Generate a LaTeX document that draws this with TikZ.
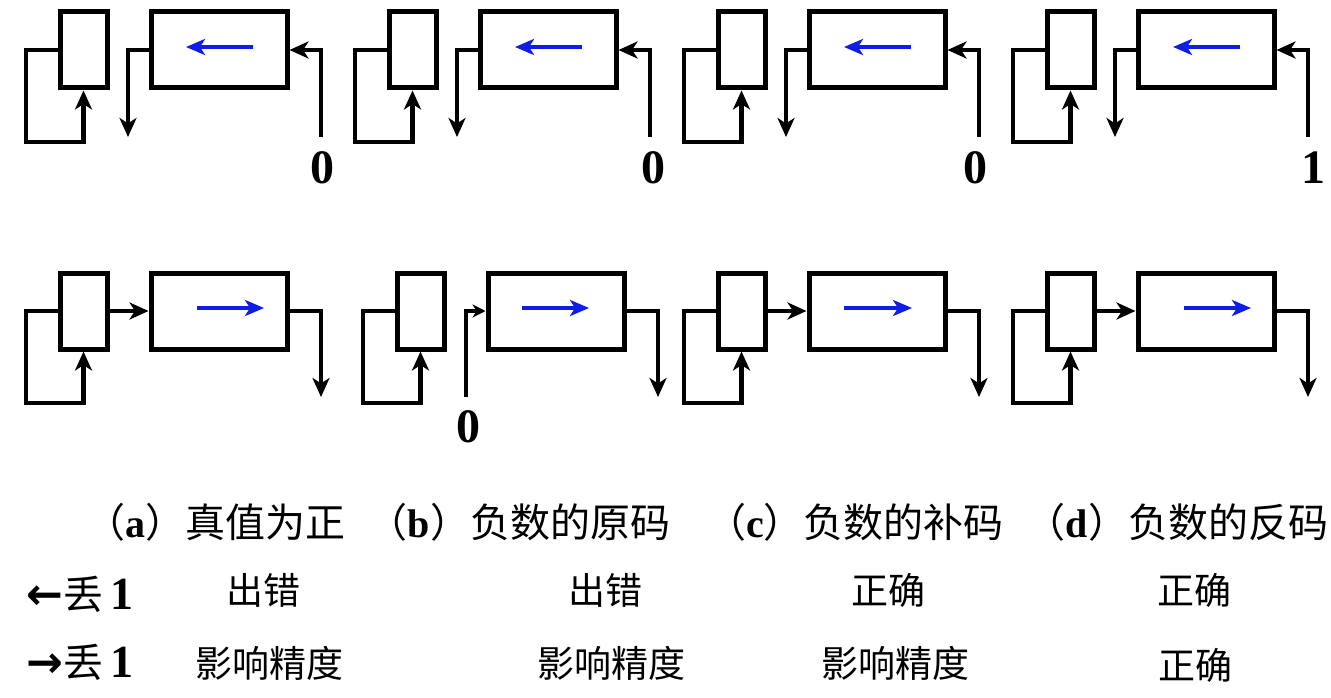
\documentclass[tikz,border=0pt]{standalone}
\usepackage{fontspec}
\setmainfont{Liberation Serif}
\newfontfamily\cjk{Noto Sans CJK SC}
\newfontfamily\dvs{DejaVu Sans}
\usetikzlibrary{arrows.meta}
\definecolor{arrblue}{RGB}{15,30,230}
\tikzset{
  reg/.style={draw, line width=5pt, inner sep=0pt},
  smallreg/.style={reg, minimum width=47pt, minimum height=76pt},
  bigreg/.style={reg, minimum width=136pt, minimum height=76pt},
  wire/.style={line width=4.6pt, -{Stealth[length=19pt,width=17pt,inset=5.5pt]}},
  shortwire/.style={line width=4.6pt, -{Stealth[length=13pt,width=13pt,inset=4pt]}},
  shiftarrow/.style={draw=arrblue, line width=4.6pt, -{Stealth[length=19pt,width=16pt,inset=5pt]}},
  bit/.style={font=\fontsize{48}{48}\selectfont\bfseries, inner sep=0pt},
  lbl/.style={font=\fontsize{37}{37}\selectfont\cjk, inner sep=0pt},
  captxt/.style={font=\fontsize{40}{40}\selectfont\cjk, inner sep=0pt},
  sidetxt/.style={font=\fontsize{40}{40}\selectfont\cjk, inner sep=0pt},
}
\newcommand{\latb}[1]{{\rmfamily\bfseries #1}}
\newcommand{\bigone}{{\rmfamily\bfseries\fontsize{46}{46}\selectfont 1}}
\begin{document}
\begin{tikzpicture}[x=1pt,y=-1pt]
\useasboundingbox[fill=white] (0,0) rectangle (1331,698);

% ---------- top row: left shift ----------
\foreach \ox/\id in {0/t1,329/t2,658/t3,987/t4}{
\begin{scope}[shift={(\ox,0)}, name prefix=\id-]
  \node[smallreg] (s) at (83.5,50) {};
  \node[bigreg] (b) at (219,50) {};
  \coordinate (out) at (128,137);
  \coordinate (in) at (321,137);
  \draw[wire] (s.west) -| (26,142) -| (s.south);
  \draw[wire] (b.west) -| (out);
  \draw[wire] (in) |- (b.east);
  \draw[shiftarrow] ([xshift=34pt,yshift=3pt]b.center) -- ([xshift=-33pt,yshift=3pt]b.center);
\end{scope}
}
\node[bit] (v1) at (322,168) {0};
\node[bit] (v2) at (653,168) {0};
\node[bit] (v3) at (975,168) {0};
\node[bit] (v4) at (1313,168) {1};

% ---------- bottom row: right shift ----------
% (a)
\begin{scope}[name prefix=b1-]
  \node[smallreg] (s) at (83.5,311) {};
  \node[bigreg] (b) at (219,311) {};
  \coordinate (out) at (321,397);
  \draw[wire] (s.west) -| (26,403) -| (s.south);
  \draw[wire] (s.east) -- (b.west);
  \draw[wire] (b.east) -| (out);
  \draw[shiftarrow] ([xshift=-22pt,yshift=3pt]b.center) -- ([xshift=45pt,yshift=3pt]b.center);
\end{scope}
% (b)
\begin{scope}[shift={(337,0)}, name prefix=b2-]
  \node[smallreg] (s) at (83.5,311) {};
  \node[bigreg] (b) at (219,311) {};
  \coordinate (out) at (321,397);
  \coordinate (in) at (129,397);
  \draw[wire] (s.west) -| (26,403) -| (s.south);
  \draw[shortwire] (in) |- (b.west);
  \draw[wire] (b.east) -| (out);
  \draw[shiftarrow] ([xshift=-34pt,yshift=3pt]b.center) -- ([xshift=33pt,yshift=3pt]b.center);
  \node[bit] (v) at (131,427) {0};
\end{scope}
% (c)
\begin{scope}[shift={(658,0)}, name prefix=b3-]
  \node[smallreg] (s) at (83.5,311) {};
  \node[bigreg] (b) at (219,311) {};
  \coordinate (out) at (321,397);
  \draw[wire] (s.west) -| (26,403) -| (s.south);
  \draw[wire] (s.east) -- (b.west);
  \draw[wire] (b.east) -| (out);
  \draw[shiftarrow] ([xshift=-33pt,yshift=3pt]b.center) -- ([xshift=35pt,yshift=3pt]b.center);
\end{scope}
% (d)
\begin{scope}[shift={(987,0)}, name prefix=b4-]
  \node[smallreg] (s) at (83.5,311) {};
  \node[bigreg] (b) at (219,311) {};
  \coordinate (out) at (321,397);
  \draw[wire] (s.west) -| (26,403) -| (s.south);
  \draw[wire] (s.east) -- (b.west);
  \draw[wire] (b.east) -| (out);
  \draw[shiftarrow] ([xshift=-22pt,yshift=3pt]b.center) -- ([xshift=45pt,yshift=3pt]b.center);
\end{scope}

% ---------- captions ----------
\node[captxt] (ca) at (215,522) {（\latb{a}）真值为正};
\node[captxt] (cb) at (519,522) {（\latb{b}）负数的原码};
\node[captxt] (cc) at (855,522) {（\latb{c}）负数的补码};
\node[captxt] (cd) at (1177,522) {（\latb{d}）负数的反码};

\node[sidetxt] (lL) at (80,594) {{\dvs\bfseries\fontsize{44}{44}\selectfont ←}丢\,\bigone};
\node[lbl] (r2a) at (263,590) {出错};
\node[lbl] (r2b) at (605,590) {出错};
\node[lbl] (r2c) at (888,590) {正确};
\node[lbl] (r2d) at (1194,590) {正确};

\node[sidetxt] (lR) at (80,662) {{\dvs\bfseries\fontsize{44}{44}\selectfont →}丢\,\bigone};
\node[lbl] (r3a) at (269,663) {影响精度};
\node[lbl] (r3b) at (611,663) {影响精度};
\node[lbl] (r3c) at (895,663) {影响精度};
\node[lbl] (r3d) at (1195,665) {正确};
\end{tikzpicture}
\end{document}
